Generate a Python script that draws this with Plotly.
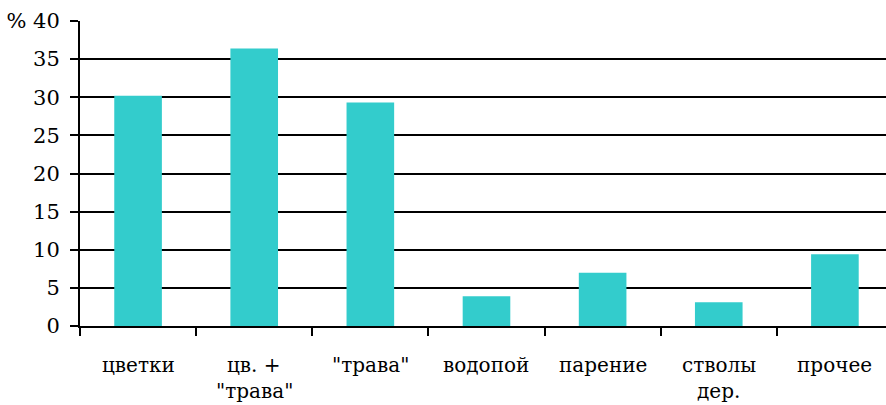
import plotly.graph_objects as go

categories = ["цветки", "цв. +<br>\"трава\"", "\"трава\"", "водопой", "парение", "стволы<br>дер.", "прочее"]
values = [30.2, 36.4, 29.3, 3.9, 7.0, 3.1, 9.4]
y_tickvals = [0, 5, 10, 15, 20, 25, 30, 35, 40]
y_ticktext = ["0", "5", "10", "15", "20", "25", "30", "35", "% 40"]

fig = go.Figure(go.Bar(
    x=list(range(len(categories))), y=values,
    marker=dict(color="#33CCCC", line=dict(width=0)),
    width=0.41,
))

yfont = dict(family="DejaVu Serif", size=21, color="black")
xfont = dict(family="DejaVu Serif", size=20, color="black")

fig.update_layout(
    width=886, height=405, autosize=False,
    margin=dict(l=80, r=0, t=21, b=79, pad=0),
    paper_bgcolor="white", plot_bgcolor="white",
    showlegend=False, font=yfont,
    xaxis=dict(
        range=[-0.5, 6.44],
        tickmode="array", tickvals=[-0.5, 0.5, 1.5, 2.5, 3.5, 4.5, 5.5],
        ticktext=[""] * 7,
        ticks="outside", ticklen=8, tickwidth=2, tickcolor="black",
        showgrid=False, showline=True, linecolor="black", linewidth=2,
        zeroline=False,
    ),
    yaxis=dict(
        range=[0, 40],
        tickmode="array", tickvals=y_tickvals, ticktext=y_ticktext,
        ticks="outside", ticklen=8, tickwidth=2, tickcolor="black",
        showgrid=True, gridcolor="black", gridwidth=2,
        showline=True, linecolor="black", linewidth=2,
        zeroline=False, ticklabelstandoff=6,
        tickfont=yfont,
    ),
)

for i, c in enumerate(categories):
    for k, line in enumerate(c.split("<br>")):
        fig.add_annotation(
            x=i, y=0, xref="x", yref="y", text=line, showarrow=False,
            yanchor="top", yshift=-25 - 26 * k, font=xfont, align="center",
        )

fig.write_html("out.html", config={"displayModeBar": False})

with open("out.html", encoding="utf-8") as f:
    html = f.read()
html = html.replace("<head>", "<head><style>html,body{margin:0;padding:0;overflow:hidden;}</style>", 1)
with open("out.html", "w", encoding="utf-8") as f:
    f.write(html)
